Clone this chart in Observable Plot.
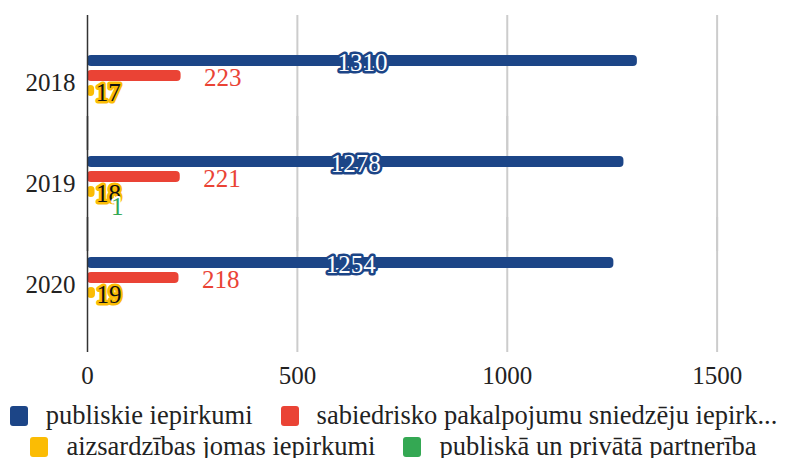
<!DOCTYPE html>
<html>
<head>
<meta charset="utf-8">
<script src="https://cdn.jsdelivr.net/npm/d3@7"></script>
<script src="https://cdn.jsdelivr.net/npm/@observablehq/plot@0.6"></script>
<style>
  html, body { margin: 0; padding: 0; background: #fff; }
  #wrap { width: 787px; height: 458px; overflow: hidden; font-family: 'Liberation Serif'; }
  .legend { width: 787px; margin-top: 5px; font-size: 26.5px; color: #222; font-family: 'Liberation Serif'; }
  .row { display: flex; justify-content: center; align-items: center; height: 31px; white-space: nowrap; }
  .item { display: flex; align-items: center; margin: 0 14px; }
  .sw { width: 18px; height: 20px; border-radius: 3px; margin-right: 18px; }
  svg text { font-family: 'Liberation Serif'; }
</style>
</head>
<body>
<div id="wrap"></div>
<script>
const years = ["2018", "2019", "2020"];
const seriesNames = [
  "publiskie iepirkumi",
  "sabiedrisko pakalpojumu sniedzēju iepirkumi",
  "aizsardzības jomas iepirkumi",
  "publiskā un privātā partnerība"
];
const legendLabels = [
  "publiskie iepirkumi",
  "sabiedrisko pakalpojumu sniedzēju iepirk...",
  "aizsardzības jomas iepirkumi",
  "publiskā un privātā partnerība"
];
const publiskie = [1310, 1278, 1254];
const sabiedrisko = [223, 221, 218];
const aizsardzibas = [17, 18, 19];
const ppp = [null, 1, null];
const xTicks = [0, 500, 1000, 1500];
const colors = ["#1c4587", "#ea4335", "#fbbc04", "#34a853"];
const FONT = "Liberation Serif";

const seriesValues = [publiskie, sabiedrisko, aizsardzibas, ppp];
const rows = [];
years.forEach((yr, i) => {
  seriesValues.forEach((vals, s) => {
    if (vals[i] != null) rows.push({year: yr, series: seriesNames[s], value: vals[i], s});
  });
});
const bySeries = s => rows.filter(d => d.s === s);

const chart = Plot.plot({
  width: 787,
  height: 395,
  marginTop: 31,
  marginBottom: 59,
  marginLeft: 87,
  marginRight: 20,
  style: {fontFamily: FONT, fontSize: "25px", color: "#222", background: "#fff"},
  x: {domain: [0, 1620], ticks: xTicks, tickSize: 0, tickPadding: 31, label: null, tickFormat: d => String(d)},
  y: {domain: seriesNames, axis: null, paddingInner: 0.27, paddingOuter: 1.36},
  fy: {domain: years, axis: "left", label: null, tickSize: 0, tickPadding: 12, paddingInner: 0, paddingOuter: 0},
  color: {domain: seriesNames, range: colors},
  marks: [
    Plot.ruleX(xTicks.filter(t => t > 0), {stroke: "#cccccc", strokeWidth: 2, insetTop: -17, insetBottom: -17}),
    Plot.barX(rows, {x: "value", y: "series", fy: "year", fill: "series", rx: 4}),
    Plot.ruleX([0], {stroke: "#333", strokeWidth: 1.5, insetTop: -17, insetBottom: -17}),
    Plot.text(bySeries(0), {x: d => d.value / 2, y: "series", fy: "year", text: d => String(d.value), fontFamily: FONT, fill: "#fff", stroke: colors[0], strokeWidth: 5, dy: 2}),
    Plot.text(bySeries(1), {x: "value", y: "series", fy: "year", text: d => String(d.value), fontFamily: FONT, fill: colors[1], stroke: "#fff", strokeWidth: 4, textAnchor: "start", dx: 23, dy: 2}),
    Plot.text(bySeries(2), {x: "value", y: "series", fy: "year", text: d => String(d.value), fontFamily: FONT, fill: "#111", stroke: colors[2], strokeWidth: 5, textAnchor: "start", dx: 1, dy: 2}),
    Plot.text(bySeries(3), {x: "value", y: "series", fy: "year", text: d => String(d.value), fontFamily: FONT, fill: colors[3], stroke: "#fff", strokeWidth: 4, textAnchor: "start", dx: 23, dy: 0})
  ]
});

const wrap = document.getElementById("wrap");
wrap.appendChild(chart);

const legend = document.createElement("div");
legend.className = "legend";
[[0, 1], [2, 3]].forEach(idxs => {
  const row = document.createElement("div");
  row.className = "row";
  idxs.forEach(i => {
    const item = document.createElement("div");
    item.className = "item";
    const sw = document.createElement("span");
    sw.className = "sw";
    sw.style.background = colors[i];
    const lab = document.createElement("span");
    lab.textContent = legendLabels[i];
    item.appendChild(sw);
    item.appendChild(lab);
    row.appendChild(item);
  });
  legend.appendChild(row);
});
wrap.appendChild(legend);
</script>
</body>
</html>
